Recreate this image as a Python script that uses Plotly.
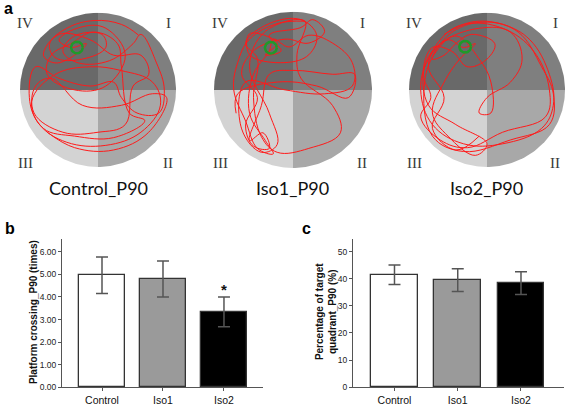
import numpy as np
import plotly.graph_objects as go

W, H = 567, 406

# ---------------- data ----------------
groups = ["Control", "Iso1", "Iso2"]
crossing_mean = [4.96, 4.80, 3.34]
crossing_err = [0.81, 0.80, 0.66]
quadrant_mean = [41.5, 39.5, 38.4]
quadrant_err = [3.6, 4.2, 4.2]
bar_colors = ["#ffffff", "#9a9a9a", "#000000"]

panel_titles = ["Control_P90", "Iso1_P90", "Iso2_P90"]
platform_xy = [(-0.27, 0.55), (-0.28, 0.54), (-0.28, 0.56)]

path_control_x = [0.52, 0.3, -0.05, -0.4, -0.62, -0.55, -0.2, 0.1, 0.05, -0.3, -0.45, -0.25, 0.15, 0.45, 0.55,
                  0.75, 0.85, 0.78, 0.5, 0.3, 0.2, -0.1, -0.5, -0.8, -0.88, -0.75, -0.4, 0.1, 0.55, 0.8, 0.7,
                  0.3, -0.1, -0.55, -0.85, -0.7, -0.3, 0.2, 0.6, 0.4, 0.3, 0.25, -0.05, -0.35, -0.6, -0.65,
                  -0.3, 0.1, 0.35, 0.1, -0.2, -0.5, -0.35, -0.15, -0.3, -0.55, -0.7, -0.5, -0.1, 0.2, 0.55,
                  0.65, 0.45, 0.35, 0.0, -0.45, -0.82, -0.8, -0.6, -0.2, 0.3, 0.7, 0.88, 0.65, 0.2, -0.3, -0.65]
path_control_y = [0.71, 0.85, 0.9, 0.8, 0.6, 0.42, 0.4, 0.55, 0.72, 0.7, 0.5, 0.35, 0.38, 0.6, 0.72,
                  0.35, 0.0, -0.3, -0.3, -0.1, 0.1, 0.05, 0.15, 0.3, -0.1, -0.45, -0.68, -0.72, -0.55, -0.2, 0.1,
                  0.25, 0.3, 0.2, -0.15, -0.5, -0.6, -0.62, -0.4, -0.3, 0.3, 0.6, 0.75, 0.6, 0.45, 0.2,
                  0.0, 0.05, 0.45, 0.8, 0.82, 0.65, 0.55, 0.6, 0.45, 0.35, 0.45, 0.72, 0.65, 0.45, 0.45,
                  0.2, 0.05, -0.45, -0.55, -0.55, -0.3, 0.05, 0.15, -0.2, -0.2, -0.05, -0.1, -0.55, -0.78, -0.75, -0.55]
path_iso1_x = [0.15, -0.2, -0.55, -0.7, -0.75, -0.6, -0.45, -0.25, -0.35, -0.55, -0.5, -0.3, -0.25, -0.05, 0.2,
               0.5, 0.75, 0.75, 0.4, -0.1, -0.6, -0.65, -0.4, -0.2, -0.3, -0.55, -0.35, 0.15, 0.05, 0.1, 0.5,
               0.6, 0.2, -0.2, -0.4, -0.5, -0.45, -0.6, -0.3, 0.1, 0.3, 0.2, -0.1, -0.55, -0.55,
               -0.2, -0.35, -0.15, -0.3, 0.1, 0.25, 0.4, 0.2, -0.1, -0.5, -0.65, -0.45, -0.6, -0.5, -0.3,
               -0.38, -0.55, -0.4, -0.3, 0.0, 0.5, 0.78, 0.7, 0.3, -0.2, -0.7, -0.72]
path_iso1_y = [0.88, 0.85, 0.65, 0.35, 0.0, -0.4, -0.75, -0.82, -0.65, -0.3, 0.2, 0.5, 0.65, 0.55, 0.7,
               0.6, 0.35, 0.05, -0.05, 0.0, 0.1, -0.5, -0.8, -0.7, -0.3, 0.3, 0.75, 0.88, 0.45, 0.15, -0.2,
               -0.55, -0.75, -0.8, -0.6, -0.1, 0.4, 0.6, 0.85, 0.9, 0.7, 0.45, 0.35, 0.45, 0.72,
               0.6, 0.45, 0.5, 0.7, 0.8, 0.9, 0.75, 0.6, 0.65, 0.5, 0.2, -0.1, -0.45, -0.72, -0.75,
               -0.55, -0.65, -0.2, 0.2, 0.25, 0.2, 0.2, -0.1, 0.05, 0.1, -0.05, -0.3]
path_iso2_x = [-0.55, -0.2, 0.2, 0.55, 0.8, 0.85, 0.7, 0.2, -0.3, -0.7, -0.85, -0.75, -0.5, -0.3, -0.15, -0.35,
               -0.55, -0.7, -0.5, -0.15, 0.0, -0.4, -0.75, -0.8, -0.6, -0.1, 0.3, 0.45, 0.3, 0.0, -0.1, 0.05,
               0.05, -0.1, -0.4, -0.65, -0.8, -0.7, -0.3, 0.3, 0.8, 0.85, 0.7, 0.4, 0.0, -0.45, -0.7,
               -0.55, -0.4, -0.2, 0.1, 0.0, -0.25, -0.45, -0.7, -0.82, -0.72, -0.85, -0.6, -0.25, 0.2, 0.75,
               0.8, 0.6, 0.2, -0.3, -0.6, -0.75, -0.55, -0.7, -0.4, -0.1]
path_iso2_y = [0.72, 0.88, 0.85, 0.65, 0.2, -0.2, -0.5, -0.7, -0.7, -0.45, 0.0, 0.4, 0.65, 0.55, 0.6, 0.4,
               0.1, -0.3, -0.6, -0.85, -0.7, -0.45, -0.2, 0.3, 0.6, 0.8, 0.75, 0.4, 0.1, -0.1, -0.3, -0.3,
               0.1, 0.4, 0.7, 0.5, 0.1, -0.6, -0.8, -0.65, -0.45, -0.05, 0.3, 0.75, 0.88, 0.75, 0.4,
               0.45, 0.6, 0.72, 0.6, 0.4, 0.3, 0.5, 0.55, 0.2, -0.1, -0.35, -0.65, -0.75, -0.55, -0.35,
               0.0, 0.5, 0.8, 0.85, 0.65, 0.3, -0.1, -0.5, -0.78, -0.6]
paths = [(path_control_x, path_control_y), (path_iso1_x, path_iso1_y), (path_iso2_x, path_iso2_y)]

# ---------------- layout helpers ----------------
def px_x(a, b):
    return [a / W, b / W]

def px_y(top, bottom):
    return [1 - bottom / H, 1 - top / H]

fig = go.Figure()

# circles: (center x, center y, radius) in pixels
circles = [(98, 91, 78), (293, 91, 79), (487, 91, 78)]
quad_colors = {"I": "#7f7f7f", "II": "#a8a8a8", "III": "#d3d3d3", "IV": "#696969"}
quad_angles = {"I": (0, 90), "IV": (90, 180), "III": (180, 270), "II": (270, 360)}

layout_axes = {}
for i, (cx, cy, r) in enumerate(circles):
    n = i + 3
    xa, ya = f"x{n}", f"y{n}"
    layout_axes[f"xaxis{n}"] = dict(domain=px_x(cx - r, cx + r), range=[-1, 1], visible=False, fixedrange=True)
    layout_axes[f"yaxis{n}"] = dict(domain=px_y(cy - r, cy + r), range=[-1, 1], visible=False, fixedrange=True)
    for q, (a0, a1) in quad_angles.items():
        t = np.radians(np.linspace(a0, a1, 60))
        qx = np.concatenate([[0], np.cos(t), [0]])
        qy = np.concatenate([[0], np.sin(t), [0]])
        fig.add_trace(go.Scatter(x=qx, y=qy, xaxis=xa, yaxis=ya, mode="lines", fill="toself",
                                 fillcolor=quad_colors[q], line=dict(width=0, color=quad_colors[q]),
                                 hoverinfo="skip", showlegend=False))
    px_, py_ = paths[i]
    fig.add_trace(go.Scatter(x=px_, y=py_, xaxis=xa, yaxis=ya, mode="lines",
                             line=dict(color="#ff1a1a", width=1, shape="spline", smoothing=1.1),
                             hoverinfo="skip", showlegend=False))
    t = np.radians(np.linspace(0, 360, 50))
    gx, gy = platform_xy[i]
    fig.add_trace(go.Scatter(x=gx + 0.075 * np.cos(t), y=gy + 0.075 * np.sin(t), xaxis=xa, yaxis=ya,
                             mode="lines", line=dict(color="#1f9a2a", width=2.5),
                             hoverinfo="skip", showlegend=False))

# roman numeral labels and titles
numeral_pos = [((25, 23), (168, 23), (25, 165), (168, 165)),
               ((220, 23), (362, 23), (220, 165), (362, 165)),
               ((414, 23), (555, 23), (414, 165), (555, 165))]
annotations = []
title_x = [98, 292, 486]
for i in range(3):
    for txt, (x, y) in zip(["IV", "I", "III", "II"], numeral_pos[i]):
        annotations.append(dict(x=x / W, y=1 - y / H, xref="paper", yref="paper", text=txt, showarrow=False,
                                font=dict(family="Liberation Serif", size=15, color="#3a3a3a"),
                                xanchor="center", yanchor="middle"))
    annotations.append(dict(x=title_x[i] / W, y=1 - 190 / H, xref="paper", yref="paper", text=panel_titles[i],
                            showarrow=False, font=dict(family="Lato", size=18, color="#111111"),
                            xanchor="center", yanchor="middle"))

# bar panels
bar_line = dict(color="#333333", width=1.3)
fig.add_trace(go.Bar(x=[0, 1, 2], y=crossing_mean, width=0.75, marker=dict(color=bar_colors, line=bar_line),
                     error_y=dict(type="data", array=crossing_err, color="#555555", thickness=1.5, width=6),
                     xaxis="x", yaxis="y", showlegend=False))
fig.add_trace(go.Bar(x=[0, 1, 2], y=quadrant_mean, width=0.74, marker=dict(color=bar_colors, line=bar_line),
                     error_y=dict(type="data", array=quadrant_err, color="#555555", thickness=1.5, width=6),
                     xaxis="x2", yaxis="y2", showlegend=False))

tickfont = dict(family="Liberation Sans", size=8.5, color="#222222")
xtickfont = dict(family="Liberation Sans", size=10.5, color="#111111")
axis_common = dict(showline=True, linecolor="#555555", linewidth=1, ticks="outside", ticklen=3,
                   tickcolor="#555555", showgrid=False, zeroline=False, fixedrange=True)

bottom = 392
layout_axes["xaxis"] = dict(domain=px_x(62, 263), range=[-0.656, 2.64], tickvals=[0, 1, 2], ticktext=groups,
                            tickfont=xtickfont, anchor="y", ticklabelstandoff=0, **axis_common)
layout_axes["yaxis"] = dict(domain=px_y(242, bottom), range=[0, 6.57], tickvals=[0, 1, 2, 3, 4, 5, 6],
                            tickformat=".2f", tickfont=tickfont, anchor="x", **axis_common)
layout_axes["xaxis2"] = dict(domain=px_x(353, 564), range=[-0.656, 2.68], tickvals=[0, 1, 2], ticktext=groups,
                             tickfont=xtickfont, anchor="y2", ticklabelstandoff=0, **axis_common)
layout_axes["yaxis2"] = dict(domain=px_y(242, bottom), range=[0, 54.7], tickvals=[0, 10, 20, 30, 40, 50],
                             tickfont=tickfont, anchor="x2", **axis_common)

# significance mark
annotations.append(dict(x=2, y=4.35, xref="x", yref="y", text="<b>*</b>", showarrow=False,
                        font=dict(family="Liberation Sans", size=15, color="#111111"),
                        xanchor="center", yanchor="middle"))
# axis titles
annotations.append(dict(x=33 / W, y=1 - 316 / H, xref="paper", yref="paper",
                        text="<b>Platform crossing_P90 (times)</b>", textangle=-90, showarrow=False,
                        font=dict(family="Liberation Sans", size=10, color="#111111"),
                        xanchor="center", yanchor="middle"))
annotations.append(dict(x=326 / W, y=1 - 316 / H, xref="paper", yref="paper",
                        text="<b>Percentage of target<br>quadrant_P90 (%)</b>", textangle=-90, showarrow=False,
                        font=dict(family="Liberation Sans", size=10, color="#111111"),
                        xanchor="center", yanchor="middle"))
# panel letters
for letter, (x, y) in zip(["a", "b", "c"], [(8, 9), (10, 231), (306, 231)]):
    annotations.append(dict(x=x / W, y=1 - y / H, xref="paper", yref="paper", text=f"<b>{letter}</b>",
                            showarrow=False, font=dict(family="Liberation Sans", size=16, color="#000000"),
                            xanchor="center", yanchor="middle"))

fig.update_layout(width=W, height=H, margin=dict(l=0, r=0, t=0, b=0), paper_bgcolor="white",
                  plot_bgcolor="rgba(0,0,0,0)", annotations=annotations, bargap=0, **layout_axes)

fig.write_html("out.html", config={"displayModeBar": False},
               post_script="document.body.style.margin='0';document.body.style.overflow='hidden';")
